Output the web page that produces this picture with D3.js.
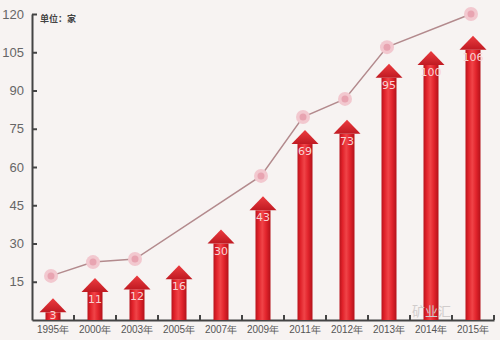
<!DOCTYPE html>
<html><head><meta charset="utf-8">
<script src="https://cdn.jsdelivr.net/npm/d3@7"></script>
<style>
html,body{margin:0;padding:0;background:#f7f3f2;}
svg{display:block;font-family:"Noto Sans CJK SC","Noto Sans",sans-serif;}
</style></head>
<body><svg id="c" width="500" height="340"></svg>
<script>
const years = ["1995年","2000年","2003年","2005年","2007年","2009年","2011年","2012年","2013年","2014年","2015年"];
const barValues = [3,11,12,16,30,43,69,73,95,100,106];
const lineValues = [17.3,22.7,23.9,null,null,56.5,79.6,86.7,107,null,120];
const yTicks = [15,30,45,60,75,90,105,120];
const unitLabel = "单位：家";

const svg = d3.select("#c");
svg.append("rect").attr("width",500).attr("height",340).attr("fill","#f7f3f2");

const x = d3.scaleBand().domain(years).range([32,494]).padding(0);
const y = d3.scaleLinear().domain([0,120]).range([320,14]);

const defs = svg.append("defs");
const g1 = defs.append("linearGradient").attr("id","shaft").attr("x1","0").attr("x2","1").attr("y1","0").attr("y2","0");
[[0,"#b8141c"],[0.2,"#e0222a"],[0.45,"#f04448"],[0.7,"#e2242c"],[1,"#b3121a"]].forEach(s=>g1.append("stop").attr("offset",s[0]).attr("stop-color",s[1]));
const g2 = defs.append("linearGradient").attr("id","head").attr("x1","0").attr("x2","0").attr("y1","0").attr("y2","1");
[[0,"#ec3c40"],[1,"#c01a22"]].forEach(s=>g2.append("stop").attr("offset",s[0]).attr("stop-color",s[1]));

// axes
const yAxis = d3.axisLeft(y).tickValues(yTicks).tickSizeInner(-5).tickSizeOuter(0).tickPadding(8);
const ya = svg.append("g").attr("transform","translate(32,0)").call(yAxis);
ya.select(".domain").attr("stroke","#444").attr("stroke-width",2);
ya.selectAll(".tick line").attr("stroke","#444").attr("stroke-width",2);
ya.selectAll(".tick text").attr("fill","#666").attr("font-size",13).attr("font-family","Liberation Sans, Arial, sans-serif");

const xAxis = d3.axisBottom(x).tickSize(0).tickPadding(6);
const xa = svg.append("g").attr("transform","translate(0,320)").call(xAxis);
xa.select(".domain").attr("stroke","#444").attr("stroke-width",2);
xa.selectAll(".tick text").attr("fill","#555").attr("font-size",10);
// boundary ticks
const bounds = years.map(d=>x(d)+x.bandwidth());
svg.append("g").selectAll("line").data(bounds).join("line")
  .attr("x1",d=>d).attr("x2",d=>d).attr("y1",320).attr("y2",315)
  .attr("stroke","#444").attr("stroke-width",2);

// arrows
const sw = 7.5, hw = 13.5, hh = 14;
const arrows = svg.append("g");
years.forEach((yr,i)=>{
  const cx = x(yr)+x.bandwidth()/2;
  const top = y(barValues[i]), base = y(0);
  arrows.append("rect").attr("x",cx-sw).attr("y",top).attr("width",sw*2).attr("height",base-top).attr("fill","url(#shaft)");
  arrows.append("path").attr("d",`M${cx-hw},${top}L${cx},${top-hh}L${cx+hw},${top}Z`).attr("fill","url(#head)");
  arrows.append("text").attr("x",cx).attr("y",Math.min(top+11,319)).attr("text-anchor","middle")
    .attr("font-size",11).attr("fill","#f8d4d4").attr("font-family","DejaVu Sans, sans-serif").text(barValues[i]);
});

// line
const pts = years.map((yr,i)=>({yr,v:lineValues[i]})).filter(d=>d.v!=null);
const line = d3.line().x(d=>x(d.yr)+x.bandwidth()/2-2).y(d=>y(d.v));
svg.append("path").datum(pts).attr("d",line).attr("fill","none").attr("stroke","#b38a8d").attr("stroke-width",1.5);
const mk = svg.append("g").selectAll("g").data(pts).join("g")
  .attr("transform",d=>`translate(${x(d.yr)+x.bandwidth()/2-2},${y(d.v)})`);
mk.append("circle").attr("r",7).attr("fill","#f2c8cf");
mk.append("circle").attr("r",3.5).attr("fill","#e8a4b1");

svg.append("text").attr("x",40).attr("y",22).attr("font-size",9).attr("font-weight","bold").attr("fill","#444").text(unitLabel);
svg.append("text").attr("x",412).attr("y",316).attr("font-size",13).attr("fill","#d0cccc").text("矿业汇");
</script></body></html>
